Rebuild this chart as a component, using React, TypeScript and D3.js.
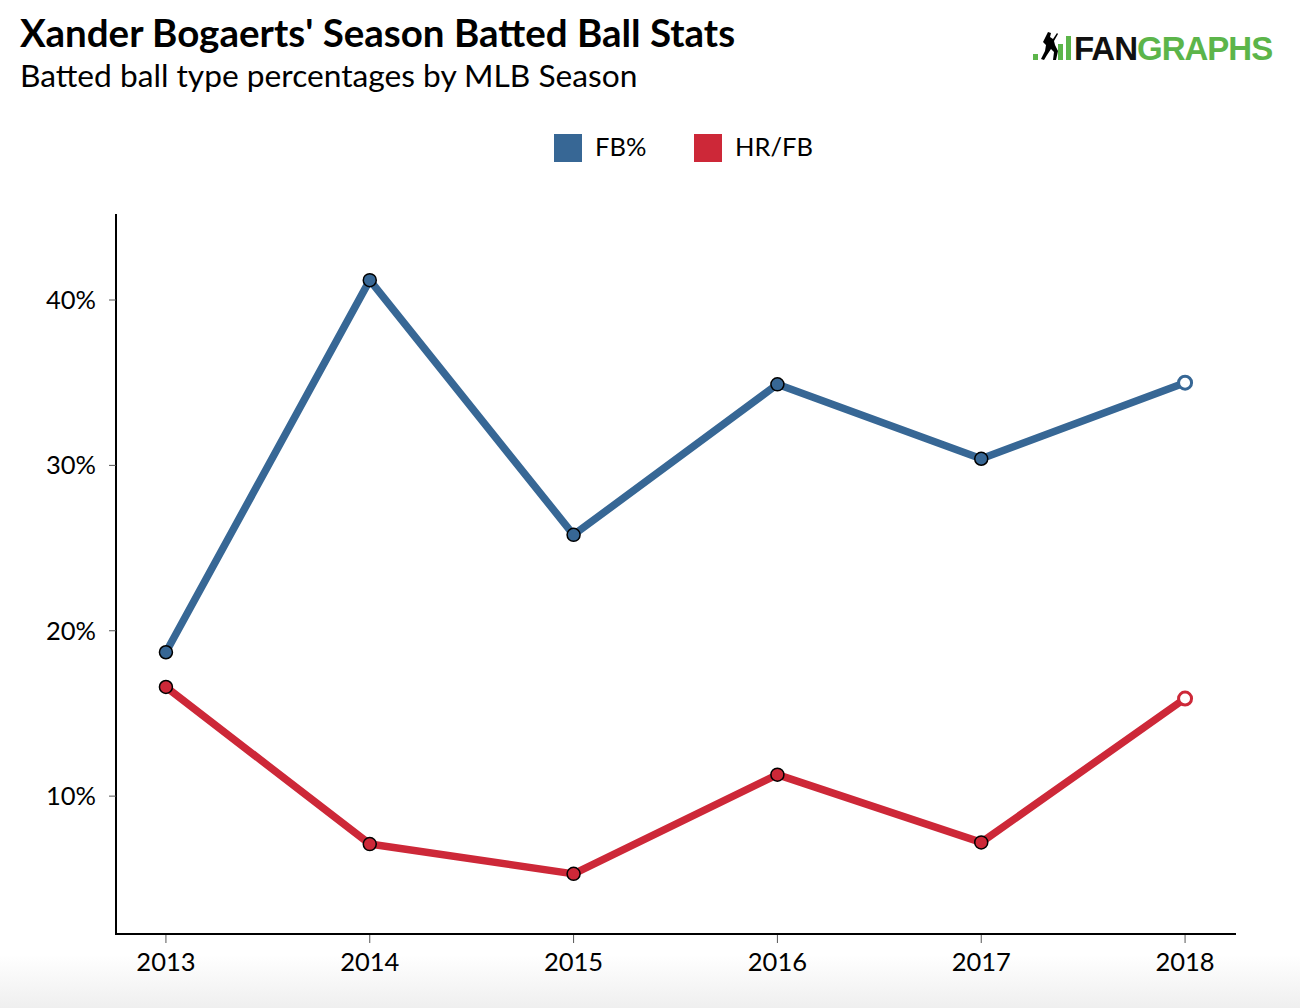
import React from 'react';
import * as d3 from 'd3';

const seasons = ['2013', '2014', '2015', '2016', '2017', '2018'];
const fbPct = [18.7, 41.2, 25.8, 34.9, 30.4, 35.0];
const hrFb = [16.6, 7.1, 5.3, 11.3, 7.2, 15.9];
const yTicks = [10, 20, 30, 40];

const W = 1300;
const H = 1008;
const blue = '#376795';
const red = '#cd2838';
const font = 'Lato, "Open Sans", sans-serif';

export default function App() {
  const x = d3.scalePoint<string>().domain(seasons).range([116, 1235]).padding(0.245);
  const y = d3.scaleLinear().domain([0, 40]).range([961.5, 300]);
  const line = d3
    .line<number>()
    .x((d, i) => x(seasons[i]) as number)
    .y((d) => y(d));

  const series = [
    { name: 'FB%', values: fbPct, color: blue },
    { name: 'HR/FB', values: hrFb, color: red },
  ];

  return (
    <svg width={W} height={H} style={{ position: 'absolute', left: 0, top: 0 }} fontFamily={font}>
      <defs>
        <linearGradient id="bottomFade" x1="0" y1="0" x2="0" y2="1">
          <stop offset="0" stopColor="#ffffff" />
          <stop offset="1" stopColor="#efefef" />
        </linearGradient>
      </defs>
      <rect width={W} height={H} fill="#fff" />
      <rect x={0} y={955} width={W} height={53} fill="url(#bottomFade)" />

      <text x={20} y={47} fontSize={38.5} fontWeight="bold" fill="#000">
        Xander Bogaerts' Season Batted Ball Stats
      </text>
      <text x={20} y={87} fontSize={31.7} fill="#000">
        Batted ball type percentages by MLB Season
      </text>

      {/* logo */}
      <g>
        <rect x={1033} y={54} width={5} height={6} fill="#5cb54a" />
        <rect x={1058} y={44} width={5} height={16} fill="#5cb54a" />
        <rect x={1066} y={36} width={5} height={24} fill="#5cb54a" />
        <path
          d="M1046 36 l2 -4 l3 1 l-1 4 l3 2 l4 -6 l1 1 l-4 7 l1 4 l3 6 l-2 9 l-3 0 l1 -8 l-3 -3 l-4 6 l-3 5 l-3 -1 l4 -8 l1 -6 l-3 -3 z"
          fill="#000"
        />
        <text x={1074} y={60} fontSize={33} fontWeight="bold" fontFamily="'Liberation Sans', Arial, sans-serif" letterSpacing={-1}>
          <tspan fill="#111">FAN</tspan>
          <tspan fill="#5cb54a">GRAPHS</tspan>
        </text>
      </g>

      {/* legend */}
      {series.map((s, i) => (
        <g key={s.name} transform={`translate(${554 + i * 140},134)`}>
          <rect width={28} height={28} fill={s.color} />
          <text x={41} y={22} fontSize={25.5} fill="#000">
            {s.name}
          </text>
        </g>
      ))}

      {/* axes */}
      <line x1={116} x2={116} y1={214} y2={935} stroke="#000" strokeWidth={2} />
      <line x1={115} x2={1236} y1={934} y2={934} stroke="#000" strokeWidth={2} />
      {yTicks.map((t) => (
        <g key={t}>
          <line x1={109} x2={116} y1={y(t)} y2={y(t)} stroke="#555" strokeWidth={1} />
          <text x={96} y={y(t) + 9} textAnchor="end" fontSize={25.5} fill="#000">
            {t}%
          </text>
        </g>
      ))}
      {seasons.map((s) => (
        <g key={s}>
          <line x1={x(s)} x2={x(s)} y1={935} y2={943} stroke="#555" strokeWidth={1} />
          <text x={x(s)} y={971} textAnchor="middle" fontSize={25.5} fill="#000">
            {s}
          </text>
        </g>
      ))}

      {/* series */}
      {series.map((s) => (
        <g key={s.name}>
          <path d={line(s.values) || ''} fill="none" stroke={s.color} strokeWidth={7.5} strokeLinejoin="round" />
          {s.values.map((v, i) => {
            const last = i === s.values.length - 1;
            return (
              <circle
                key={i}
                cx={x(seasons[i])}
                cy={y(v)}
                r={6.5}
                fill={last ? '#fff' : s.color}
                stroke={last ? s.color : '#000'}
                strokeWidth={last ? 3 : 1.5}
              />
            );
          })}
        </g>
      ))}
    </svg>
  );
}
